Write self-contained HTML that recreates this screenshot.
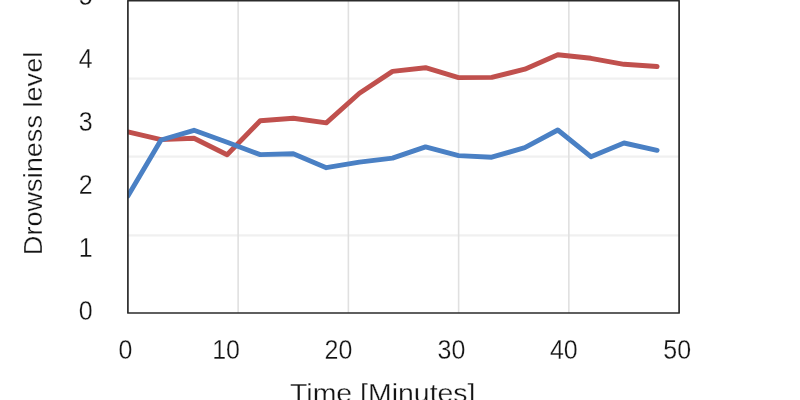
<!DOCTYPE html>
<html lang="en">
<head>
<meta charset="utf-8">
<title>Drowsiness level over time</title>
<style>
  html, body { margin: 0; padding: 0; background: #ffffff; }
  body { width: 800px; height: 400px; overflow: hidden; }
  svg { display: block; filter: blur(0.35px); }
  text { font-family: "Liberation Sans", sans-serif; fill: #141414; stroke: #ffffff; stroke-width: 0.28px; }
</style>
</head>
<body>
<svg width="800" height="400" viewBox="0 0 800 400">
  <rect x="0" y="0" width="800" height="400" fill="#ffffff"/>
  <defs>
    <clipPath id="plotclip"><rect x="127.9" y="0.75" width="551.20" height="312.25"/></clipPath>
  </defs>

  <!-- horizontal gridlines -->
  <g stroke="#f0f0f0" stroke-width="2.2" fill="none">
    <line x1="127.9" y1="78.6" x2="679.1" y2="78.6"/>
    <line x1="127.9" y1="156.7" x2="679.1" y2="156.7"/>
    <line x1="127.9" y1="235.4" x2="679.1" y2="235.4"/>
  </g>
  <!-- vertical gridlines -->
  <g stroke="#e0e0e0" stroke-width="1.6" fill="none">
    <line x1="238.14" y1="1" x2="238.14" y2="313"/>
    <line x1="348.38" y1="1" x2="348.38" y2="313"/>
    <line x1="458.62" y1="1" x2="458.62" y2="313"/>
    <line x1="568.86" y1="1" x2="568.86" y2="313"/>
  </g>

  <!-- data series -->
  <g clip-path="url(#plotclip)" fill="none" stroke-width="4.9" stroke-linejoin="round" stroke-linecap="round">
    <polyline stroke="#c0504d" points="127.9,131.8 161.0,139.6 194.0,138.3 227.1,154.7 260.2,120.8 293.3,118.3 326.3,122.9 359.4,93.2 392.5,71.4 425.5,67.7 458.6,77.6 491.7,77.4 524.8,69.2 557.8,54.7 590.9,58.3 624.0,64.3 657.1,66.5"/>
    <polyline stroke="#4a80c4" points="127.9,196 161.0,140 194.0,130.3 227.1,142.2 260.2,154.6 293.3,153.8 326.3,167.7 359.4,162.1 392.5,158.1 425.5,146.9 458.6,155.6 491.7,157.2 524.8,147.7 557.8,130 590.9,156.7 624.0,143 657.1,150.3"/>
  </g>

  <!-- plot border -->
  <rect x="127.9" y="0.75" width="551.20" height="312.25" fill="none" stroke="#2b2b2b" stroke-width="1.7" stroke-linejoin="round"/>

  <!-- y tick labels -->
  <g font-size="27" text-anchor="middle">
    <text x="85.8" y="4.9" textLength="13.9" lengthAdjust="spacingAndGlyphs">5</text>
    <text x="85.8" y="67.7" textLength="13.9" lengthAdjust="spacingAndGlyphs">4</text>
    <text x="85.8" y="130.9" textLength="13.9" lengthAdjust="spacingAndGlyphs">3</text>
    <text x="85.8" y="194.1" textLength="13.9" lengthAdjust="spacingAndGlyphs">2</text>
    <text x="85.8" y="257.2" textLength="13.9" lengthAdjust="spacingAndGlyphs">1</text>
    <text x="85.8" y="320.4" textLength="13.9" lengthAdjust="spacingAndGlyphs">0</text>
  </g>

  <!-- x tick labels -->
  <g font-size="27" text-anchor="middle">
    <text x="125.4" y="358.7" textLength="13.9" lengthAdjust="spacingAndGlyphs">0</text>
    <text x="226.1" y="358.7" textLength="27.8" lengthAdjust="spacingAndGlyphs">10</text>
    <text x="338.5" y="358.7" textLength="27.8" lengthAdjust="spacingAndGlyphs">20</text>
    <text x="451.4" y="358.7" textLength="27.8" lengthAdjust="spacingAndGlyphs">30</text>
    <text x="563.8" y="358.7" textLength="27.8" lengthAdjust="spacingAndGlyphs">40</text>
    <text x="677.2" y="358.7" textLength="27.8" lengthAdjust="spacingAndGlyphs">50</text>
  </g>

  <!-- axis titles -->
  <text x="290" y="401.6" font-size="25.6" textLength="185.5" lengthAdjust="spacingAndGlyphs">Time [Minutes]</text>
  <text transform="translate(41.5,255.2) rotate(-90)" font-size="26.4" textLength="203.5" lengthAdjust="spacingAndGlyphs">Drowsiness level</text>
</svg>
</body>
</html>
